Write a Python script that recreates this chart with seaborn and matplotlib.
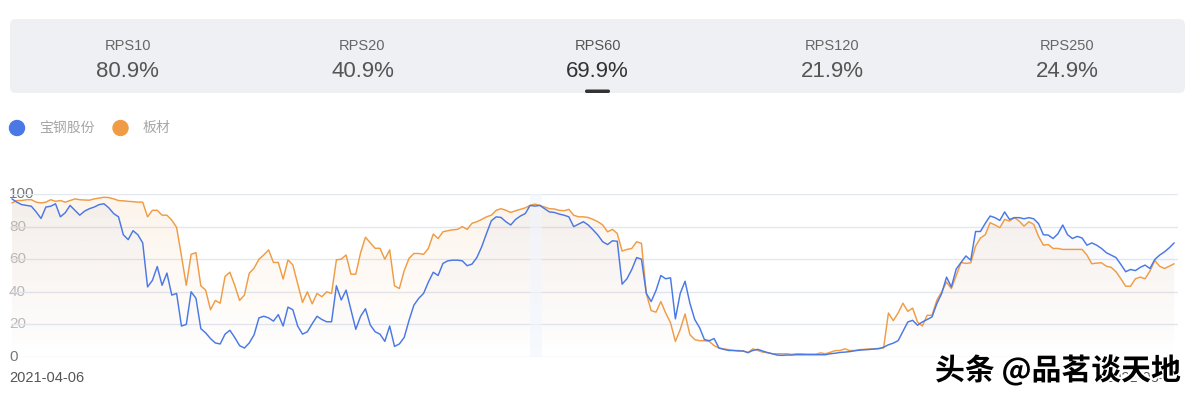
import matplotlib
matplotlib.use('Agg')
import matplotlib.pyplot as plt
import matplotlib.patheffects as pe
import matplotlib.transforms as mtrans
from matplotlib.patches import FancyBboxPatch, Circle
from matplotlib.colors import to_rgb
import numpy as np
import pandas as pd
import seaborn as sns

# tab header
rps_names = ['RPS10', 'RPS20', 'RPS60', 'RPS120', 'RPS250']
rps_values = ['80.9%', '40.9%', '69.9%', '21.9%', '24.9%']
active_tab = 2

series_names = ['宝钢股份', '板材']
series_colors = ['#4a78e4', '#f09c45']

# RPS60 of the stock (blue) and the sector (orange)
baosteel = [
    97, 95, 93.5, 93, 92.5, 89, 85, 92, 92.5, 94, 86, 88.5, 93, 90, 87, 89.5, 91, 92, 93.5, 94,
    91.5, 88, 86, 75, 72, 77.5, 75, 70, 43, 47, 55.5, 44, 51.5, 38, 39, 19, 20, 40, 36,
    17.4, 14.8, 11.3, 8.6, 8, 14, 16.4, 12, 7, 5.5, 8.6, 13.6, 24, 25, 24, 22, 26, 19, 30.6, 29,
    19, 14, 15.5, 20.4, 25, 23, 21.6, 21.6, 43.7, 35, 41, 29, 17, 25, 29.6, 19.6, 15.5, 14, 9.6, 19, 6.5,
    8, 12, 22.5, 31.8, 36, 39, 46, 52, 50, 57.4, 59, 59.4, 59.4, 59, 56, 57, 61, 67.6, 75.8, 83.6,
    86, 85.6, 83, 81, 84.4, 86.5, 88, 93, 92.6, 93, 91, 89, 88.7, 87.7, 87, 86, 80, 81.5, 83, 81,
    78, 74.8, 70.7, 69, 71.3, 71, 44.7, 48, 53.7, 61, 60, 39, 34, 40.8, 50, 48, 48.6, 23.4, 39, 46.5,
    33, 23, 18, 10.7, 10, 11.3, 5.5, 4.7, 4, 4, 3.7, 3.7, 2.7, 4, 4.7, 3.7, 2.7, 2, 1.2, 1, 1.2, 1.2,
    1.4, 1.4, 1.4, 1.4, 1.4, 1.4, 1.4, 2, 2.3, 2.8, 3, 3.3, 3.8, 4.2, 4.4, 4.6, 4.9, 5.1, 6,
    7.5, 8.5, 10, 15.8, 21.5, 22.5, 19.5, 21.5, 23, 24.6, 32.8, 39, 49, 43, 54, 58, 62, 59.4,
    77, 77, 82, 86.5, 85.5, 83.8, 89, 84.4, 85.5, 85.5, 84.8, 85.5, 84.8, 81.8, 75, 74.8, 72.7, 75.6,
    81, 75, 72.7, 74, 73, 68.6, 70, 68.6, 66.6, 64, 62.5, 61, 56.8, 52.3, 53.7, 53, 55, 56.4, 54.3,
    59.8, 62.5, 64.5, 67, 70,
]
plates = [
    94.5, 96, 96, 96.5, 96.5, 95, 94.5, 95, 96.5, 95.5, 96, 95, 96, 97, 96.5, 96.3, 96.2, 97, 97.5, 98,
    97.8, 97, 96, 95.8, 95.5, 95.3, 95, 95, 86, 90, 90, 87, 87, 84, 79.5, 62, 44, 63, 64,
    43.7, 41, 29, 34.7, 33, 49.4, 52, 44, 34.7, 38, 51.4, 54.5, 60, 62.6, 65.7, 58, 58, 47.8, 59.6, 56.5,
    45, 33.5, 40, 32.6, 39, 37, 40, 39, 59.6, 60, 62.6, 50.8, 50.8, 64, 73.5, 70, 66.7, 66.7, 60, 65.7, 43.7,
    42, 53, 60.5, 63.5, 63.5, 63, 66.6, 75.4, 72.7, 76.8, 77.5, 78, 78.3, 80, 78.3, 82, 83, 84.4, 86, 87,
    90, 91, 90, 88.7, 89.7, 90.6, 91.5, 93, 93.8, 93, 92, 91, 90.8, 90, 89.7, 90.6, 87, 86, 86, 85.6,
    84.4, 83, 81, 76.8, 78.3, 75.8, 65, 66, 66.6, 70.7, 69.7, 39, 28.5, 27.5, 34, 27, 21, 9.6, 16.8, 26.4,
    13.7, 10.7, 10, 10, 9.6, 7, 5.5, 5, 4.5, 4, 4, 3.7, 2.7, 5, 4, 3, 2.7, 2, 2, 2, 2, 1.6,
    2, 2, 1.8, 1.8, 1.8, 2.5, 2, 2.9, 3.9, 4, 5, 3.9, 4, 4.5, 4.7, 4.9, 5, 5.3, 5.5,
    27, 22.3, 27, 33, 28, 30, 21.5, 19, 25.6, 25.6, 34.8, 40, 46, 42, 50, 58, 57.4, 57.8,
    68, 73, 75, 82.4, 81, 79.3, 84.4, 83.4, 85.5, 83.4, 80.3, 83, 81.4, 74, 68.6, 69, 66.6, 66.6,
    66, 66, 66, 66, 66, 62.5, 57.2, 57.6, 57.8, 55.7, 55, 52.3, 48, 43.4, 43.4, 48, 49, 48, 52.7,
    59.2, 55.7, 54.3, 55.7, 57.2,
]
y_ticks = [0, 20, 40, 60, 80, 100]
date_labels = ['2021-04-06', '2022-03-31']

n = len(baosteel)
df = pd.DataFrame({
    'day': list(range(n)) * 2,
    'rps': baosteel + plates,
    'name': [series_names[0]] * n + [series_names[1]] * n,
})
palette = dict(zip(series_names, series_colors))

sns.set_theme(style='white')
plt.rcParams['font.family'] = ['Liberation Sans', 'Noto Sans CJK SC', 'DejaVu Sans']

W, H = 1193, 397
fig = plt.figure(figsize=(W / 100, H / 100), dpi=100)
fig.patch.set_facecolor('white')

# main chart, placed in pixel terms
x0, x1, ytop, ybot = 11, 1178, 194, 357
ax = fig.add_axes([x0 / W, 1 - ybot / H, (x1 - x0) / W, (ybot - ytop) / H])
ax.set_facecolor('none')
ax.set_xlim(-0.2, n - 1 + 0.8)
ax.set_ylim(0, 100)

# soft gradient under each line
for vals, name, a in [(plates, series_names[1], 0.11), (baosteel, series_names[0], 0.05)]:
    poly = ax.fill_between(range(n), vals, 0, color='none', lw=0)
    grad = np.zeros((100, 1, 4))
    grad[:, :, :3] = to_rgb(palette[name])
    grad[:, 0, 3] = np.linspace(0.0, a, 100)
    im = ax.imshow(grad, aspect='auto', extent=[0, n - 1, 0, 100], origin='lower', zorder=1)
    im.set_clip_path(poly.get_paths()[0], transform=ax.transData)

ax.axvspan(107, 109.5, color='#f0f6fe', alpha=0.6, lw=0, zorder=2)

sns.lineplot(data=df, x='day', y='rps', hue='name', palette=palette,
             hue_order=series_names[::-1], linewidth=1.05, legend=False, ax=ax, zorder=3)

ax.set_yticks(y_ticks)
ax.grid(axis='y', color='#e3e7f0', lw=1.0)
ax.set_axisbelow(True)
ax.tick_params(left=False, bottom=False, labelleft=False, labelbottom=False)
ax.set_xlabel('')
ax.set_ylabel('')
for s in ax.spines.values():
    s.set_visible(False)

tr = mtrans.blended_transform_factory(fig.transFigure, ax.transData)
for t in y_ticks:
    c = '#777777' if t in (0, 100) else '#bbbbbb'
    ax.text(9 / W, t, str(t), transform=tr, ha='left', va='center', fontsize=11, color=c, zorder=0)

# overlay in pixel coordinates for header, legend and labels
ov = fig.add_axes([0, 0, 1, 1])
ov.set_xlim(0, W)
ov.set_ylim(H, 0)
ov.axis('off')
ov.patch.set_visible(False)

ov.add_patch(FancyBboxPatch((10, 19), 1175, 74, boxstyle='round,pad=0,rounding_size=6',
                            fc='#eef0f3', ec='none'))
tab_w = 1175 / len(rps_names)
for i, (nm, v) in enumerate(zip(rps_names, rps_values)):
    cx = 10 + tab_w * (i + 0.5)
    c1 = '#555555' if i == active_tab else '#666666'
    c2 = '#333333' if i == active_tab else '#555555'
    ov.text(cx, 50, nm, ha='center', va='baseline', fontsize=10.5, color=c1)
    ov.text(cx, 77, v, ha='center', va='baseline', fontsize=16, color=c2)
cx = 10 + tab_w * (active_tab + 0.5)
ov.add_patch(FancyBboxPatch((cx - 12.5, 89.5), 25, 3.5, boxstyle='round,pad=0,rounding_size=1.7',
                            fc='#333333', ec='none'))

# legend
lx = [17, 120.5]
for i, nm in enumerate(series_names):
    ov.add_patch(Circle((lx[i], 128), 7.5, color=palette[nm]))
    ov.text(lx[i] + 22, 128, nm, ha='left', va='center', fontsize=10, color='#a6a6a6',
            family=['Noto Sans CJK SC', 'DejaVu Sans'])

ov.text(9, 378, date_labels[0], ha='left', va='center', fontsize=10.5, color='#555555')
# the end date sits under the watermark, as in the original screenshot
ov.text(1180, 378, date_labels[1], ha='right', va='center', fontsize=10.5, color='#555555')

ov.text(1181, 370, '头条 @品茗谈天地', ha='right', va='center', fontsize=21.5, color='black',
        family=['Noto Sans CJK SC', 'DejaVu Sans'], fontweight='bold',
        path_effects=[pe.withStroke(linewidth=3, foreground='white')])

fig.savefig('out.png', dpi=100, facecolor='white')
